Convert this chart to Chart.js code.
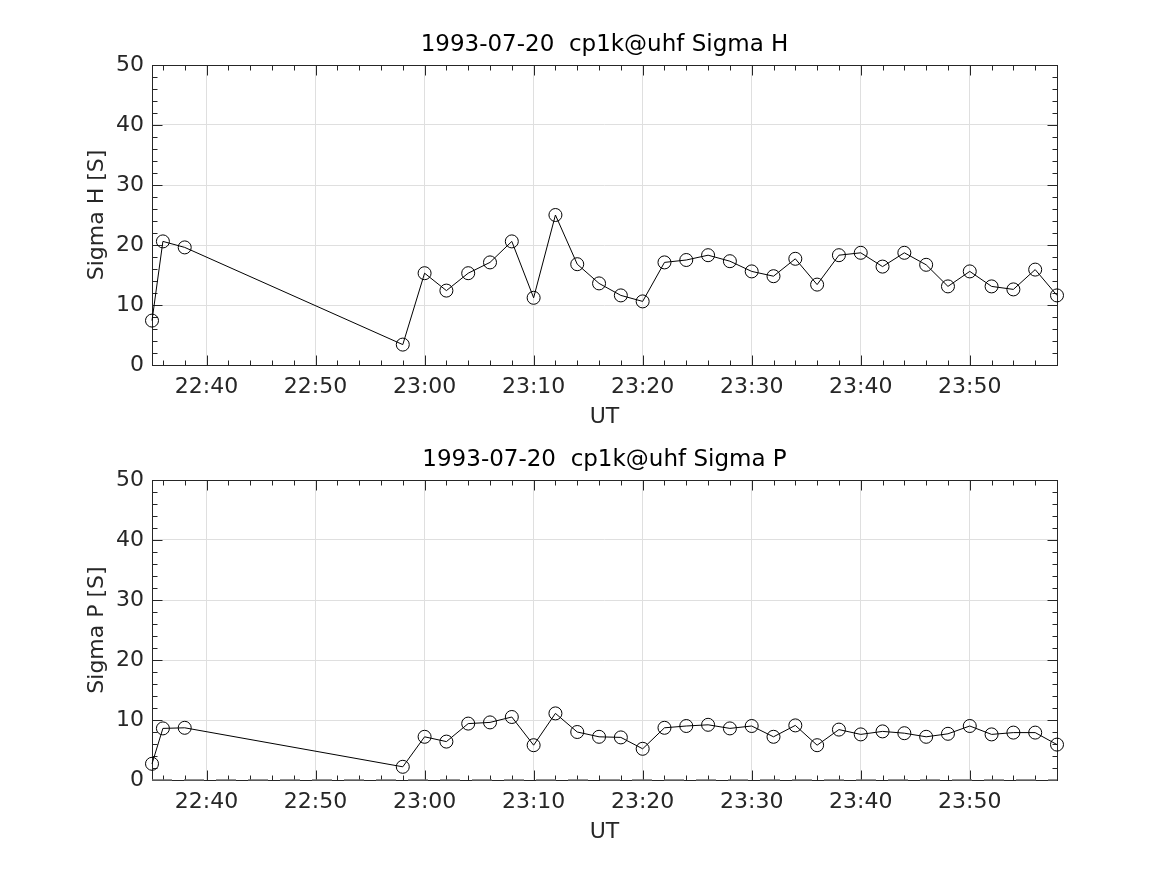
<!DOCTYPE html>
<html>
<head>
<meta charset="utf-8">
<title>1993-07-20 cp1k@uhf Sigma H / Sigma P</title>
<script src="https://cdn.jsdelivr.net/npm/chart.js@4/dist/chart.umd.min.js"></script>
<style>
  body { margin: 0; background: #fff; overflow: hidden; }
  canvas { position: absolute; left: 0; }
</style>
</head>
<body>
<canvas id="sigmaH" width="1167" height="437" style="top:0"></canvas>
<canvas id="sigmaP" width="1167" height="437" style="top:415px"></canvas>
<script>
// sample times (UT)
const times = [
  "22:35", "22:36", "22:38", "22:58",
  "23:00", "23:02", "23:04", "23:06", "23:08",
  "23:10", "23:12", "23:14", "23:16", "23:18",
  "23:20", "23:22", "23:24", "23:26", "23:28",
  "23:30", "23:32", "23:34", "23:36", "23:38",
  "23:40", "23:42", "23:44", "23:46", "23:48",
  "23:50", "23:52", "23:54", "23:56", "23:58",
];

// Hall conductance [S]
const sigmaH = [
  7.4, 20.6, 19.6, 3.4,
  15.3, 12.4, 15.3, 17.1, 20.6,
  11.2, 25.0, 16.8, 13.6, 11.6,
  10.6, 17.1, 17.5, 18.3, 17.3,
  15.6, 14.8, 17.7, 13.4, 18.3,
  18.7, 16.4, 18.7, 16.7, 13.1,
  15.6, 13.1, 12.6, 15.9, 11.6,
];

// Pedersen conductance [S]
const sigmaP = [
  2.7, 8.6, 8.7, 2.2,
  7.2, 6.4, 9.4, 9.6, 10.5,
  5.8, 11.1, 8.0, 7.2, 7.1,
  5.2, 8.7, 9.0, 9.2, 8.6,
  9.0, 7.2, 9.1, 5.8, 8.4,
  7.6, 8.1, 7.8, 7.2, 7.7,
  9.0, 7.6, 7.9, 7.9, 5.9,
];

// dashed zero line in the lower panel
const baseTimes = ["22:35", "23:58"];
const baseP = [0, 0];

const xTickLabels = ["22:40", "22:50", "23:00", "23:10", "23:20", "23:30", "23:40", "23:50"];
const xRange = ["22:35", "23:58"];
const yTicks = [0, 10, 20, 30, 40, 50];

const FONT = "'DejaVu Sans', 'Liberation Sans', sans-serif";
const TEXT = "#262626";
const GRID = "#dfdfdf";

function toMinutes(t) {
  const [h, m] = t.split(":");
  return Number(h) * 60 + Number(m);
}

function toLabel(v) {
  const h = Math.floor(v / 60);
  const m = Math.round(v - h * 60);
  return String(h).padStart(2, "0") + ":" + String(m).padStart(2, "0");
}

// MATLAB-style box with inward major/minor ticks
const boxPlugin = {
  id: "box",
  beforeDatasetsDraw(chart) {
    const { ctx, chartArea: a, scales } = chart;
    const L = Math.round(a.left) + 0.5;
    const R = Math.round(a.right) + 0.5;
    const T = Math.round(a.top) + 0.5;
    const B = Math.round(a.bottom) + 0.5;
    ctx.save();
    ctx.strokeStyle = TEXT;
    ctx.lineWidth = 1;
    ctx.strokeRect(L, T, R - L, B - T);
    ctx.beginPath();
    const x = scales.x;
    for (let v = Math.ceil(x.min / 2) * 2; v <= x.max; v += 2) {
      const len = v % 10 === 0 ? 10 : 5;
      const px = Math.round(x.getPixelForValue(v)) + 0.5;
      ctx.moveTo(px, B); ctx.lineTo(px, B - len);
      ctx.moveTo(px, T); ctx.lineTo(px, T + len);
    }
    const y = scales.y;
    for (let v = y.min; v <= y.max; v += 2) {
      const len = v % 10 === 0 ? 10 : 5;
      const py = Math.round(y.getPixelForValue(v)) + 0.5;
      ctx.moveTo(L, py); ctx.lineTo(L + len, py);
      ctx.moveTo(R, py); ctx.lineTo(R - len, py);
    }
    ctx.stroke();
    ctx.restore();
  },
};

function makeChart(id, title, yLabel, values, extra) {
  const data = times.map((t, i) => ({ x: toMinutes(t), y: values[i] }));
  const datasets = [
    {
      data,
      borderColor: "#000",
      borderWidth: 1,
      pointRadius: 6.5,
      pointBorderWidth: 1,
      pointBorderColor: "#000",
      pointBackgroundColor: "rgba(0,0,0,0)",
      tension: 0,
      clip: false,
    },
  ];
  if (extra) datasets.push(extra);

  new Chart(document.getElementById(id), {
    type: "line",
    data: { datasets },
    plugins: [boxPlugin],
    options: {
      responsive: false,
      animation: false,
      devicePixelRatio: 1,
      events: [],
      layout: { padding: { left: 0, right: 110, top: 0, bottom: 0 } },
      plugins: {
        legend: { display: false },
        tooltip: { enabled: false },
        title: {
          display: true,
          fullSize: false,
          text: title,
          color: "#000",
          font: { family: FONT, size: 23, weight: "normal" },
          padding: { top: 31.2, bottom: 6.2 },
        },
      },
      scales: {
        x: {
          type: "linear",
          min: toMinutes(xRange[0]),
          max: toMinutes(xRange[1]),
          afterBuildTicks: (scale) => {
            scale.ticks = xTickLabels.map((t) => ({ value: toMinutes(t) }));
          },
          afterFit: (scale) => {
            scale.height = 72;
          },
          ticks: {
            color: TEXT,
            font: { family: FONT, size: 22 },
            padding: 9,
            maxRotation: 0,
            callback: (v) => toLabel(v),
          },
          grid: { color: GRID, drawTicks: false },
          border: { display: false },
          title: {
            display: true,
            text: "UT",
            color: TEXT,
            font: { family: FONT, size: 22 },
            padding: { top: 0, bottom: 7 },
          },
        },
        y: {
          min: 0,
          max: 50,
          afterBuildTicks: (scale) => {
            scale.ticks = yTicks.map((v) => ({ value: v }));
          },
          afterFit: (scale) => {
            scale.width = 152;
          },
          ticks: {
            color: TEXT,
            font: { family: FONT, size: 22 },
            padding: 8,
          },
          grid: { color: GRID, drawTicks: false },
          border: { display: false },
          title: {
            display: true,
            text: yLabel,
            color: TEXT,
            font: { family: FONT, size: 22 },
            padding: { top: 84, bottom: 0 },
          },
        },
      },
    },
  });
}

makeChart("sigmaH", "1993-07-20  cp1k@uhf Sigma H", "Sigma H [S]", sigmaH);

makeChart("sigmaP", "1993-07-20  cp1k@uhf Sigma P", "Sigma P [S]", sigmaP, {
  data: baseTimes.map((t, i) => ({ x: toMinutes(t), y: baseP[i] })),
  borderColor: "#6e6e6e",
  borderWidth: 1.5,
  borderDash: [20, 12],
  pointRadius: 0,
  clip: false,
});
</script>
</body>
</html>
